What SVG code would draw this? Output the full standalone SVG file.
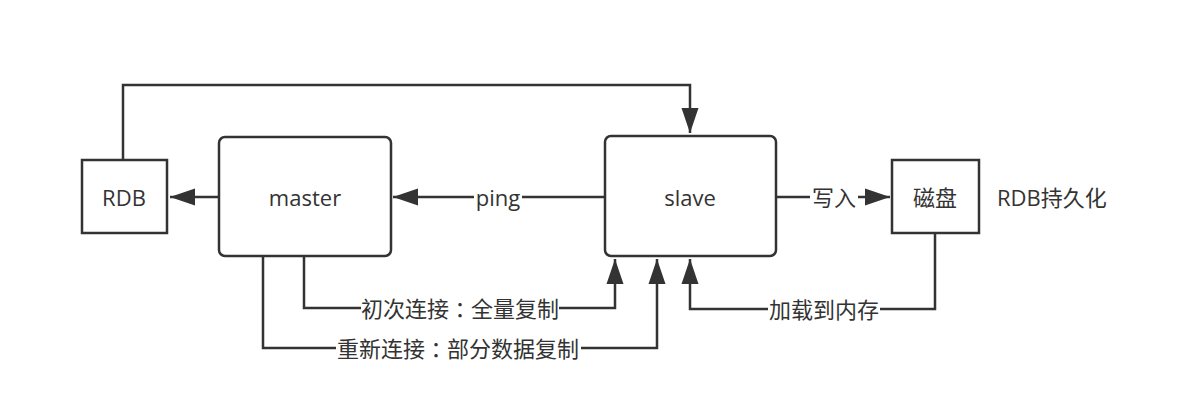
<svg xmlns="http://www.w3.org/2000/svg" width="1201" height="415" viewBox="0 0 1201 415">
<style>
.box{fill:#fff;stroke:#333;stroke-width:2.5}
.ln{fill:none;stroke:#333;stroke-width:2.5}
.t{font-family:"Open Sans","Noto Sans CJK SC",sans-serif;font-size:22px;fill:#333;text-anchor:middle;dominant-baseline:central;text-spacing-trim:space-all}
.c{font-family:"Noto Sans CJK TC",sans-serif}
.bg{fill:#fff}
</style>
<defs>
<marker id="ah" markerUnits="userSpaceOnUse" markerWidth="26" markerHeight="18" refX="25" refY="8.5" orient="auto" overflow="visible">
<path d="M0,0 L25,8.5 L0,17 Z" fill="#333"/>
</marker>
</defs>
<rect width="1201" height="415" fill="#fff"/>
<g id="connectors">
<path class="ln" d="M123,160 V85 H690 V133" marker-end="url(#ah)"/>
<path class="ln" d="M219,197 H170" marker-end="url(#ah)"/>
<path class="ln" d="M605,197 H393" marker-end="url(#ah)"/>
<path class="ln" d="M776,197 H890" marker-end="url(#ah)"/>
<path class="ln" d="M935,233 V309 H690 V259" marker-end="url(#ah)"/>
<path class="ln" d="M304,256 V308 H615 V259" marker-end="url(#ah)"/>
<path class="ln" d="M263,256 V348 H657 V259" marker-end="url(#ah)"/>
<rect class="bg" x="474" y="185" width="48" height="24"/>
<text class="t" x="498" y="197">ping</text>
<rect class="bg" x="810" y="185" width="48" height="24"/>
<text class="t" x="834" y="197">写入</text>
<rect class="bg" x="768" y="297" width="112" height="24"/>
<text class="t" x="824" y="309">加载到内存</text>
<rect class="bg" x="361" y="296" width="198" height="24"/>
<text class="t" x="460" y="308">初次连接<tspan class="c">：</tspan>全量复制</text>
<rect class="bg" x="336" y="336" width="245" height="24"/>
<text class="t" x="458" y="348">重新连接<tspan class="c">：</tspan>部分数据复制</text>
</g>
<g id="rdb">
<rect class="box" x="82" y="160" width="85" height="73"/>
<text class="t" x="124" y="197">RDB</text>
</g>
<g id="master">
<rect class="box" x="219" y="137" width="172" height="119" rx="6"/>
<text class="t" x="305" y="197">master</text>
</g>
<g id="slave">
<rect class="box" x="605" y="136" width="171" height="120" rx="6"/>
<text class="t" x="690" y="197">slave</text>
</g>
<g id="disk">
<rect class="box" x="892" y="160" width="87" height="73"/>
<text class="t" x="935" y="197">磁盘</text>
</g>
<g id="note">
<text class="t" x="997" y="197" style="text-anchor:start">RDB持久化</text>
</g>
</svg>
